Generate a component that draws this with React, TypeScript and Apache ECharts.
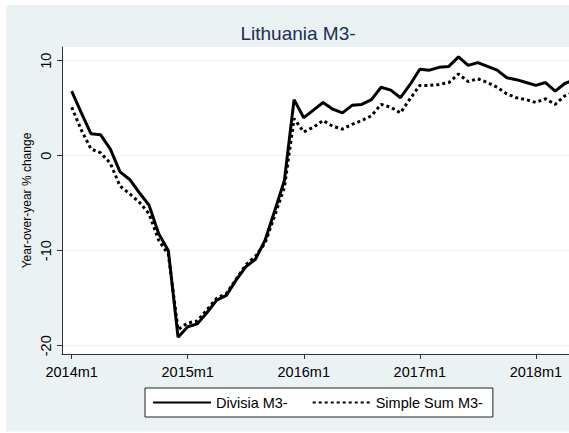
import React, { useEffect, useRef } from "react";
import * as echarts from "echarts";

const startYear = 2014;
const divisia = [
  6.8, 4.5, 2.3, 2.2, 0.7, -1.7, -2.5, -3.9, -5.2, -8.2, -10.0, -19.1,
  -18.0, -17.7, -16.5, -15.2, -14.7, -13.1, -11.7, -10.9, -8.9, -5.8, -2.6, 5.9,
  4.0, 4.8, 5.6, 4.9, 4.5, 5.3, 5.4, 5.9, 7.2, 6.9, 6.1, 7.5,
  9.1, 9.0, 9.3, 9.4, 10.4, 9.5, 9.8, 9.4, 9.0, 8.2, 8.0, 7.7,
  7.4, 7.7, 6.8, 7.6, 8.0,
];
const simpleSum = [
  5.1, 2.7, 0.7, 0.3, -0.8, -3.2, -4.0, -4.9, -6.1, -8.9, -10.4, -18.3,
  -17.6, -17.4, -16.2, -15.0, -14.5, -13.0, -11.5, -10.6, -9.2, -6.3, -3.3, 3.9,
  2.5, 3.0, 3.7, 3.1, 2.8, 3.3, 3.7, 4.2, 5.4, 5.1, 4.5, 6.0,
  7.4, 7.4, 7.5, 7.7, 8.6, 7.8, 8.1, 7.7, 7.2, 6.5, 6.1, 5.9,
  5.6, 6.0, 5.4, 6.3, 6.7,
];
const months = divisia.map(
  (_, i) => `${startYear + Math.floor(i / 12)}m${(i % 12) + 1}`
);
const xTickLabels = ["2014m1", "2015m1", "2016m1", "2017m1", "2018m1"];
const yTicks = [-20, -10, 0, 10];
const seriesNames = ["Divisia M3-", "Simple Sum M3-"];

const FONT = "'Liberation Sans', Arial, sans-serif";

export default function App() {
  const ref = useRef<HTMLDivElement>(null);
  useEffect(() => {
    if (!ref.current) return;
    const chart = echarts.init(ref.current, null, { renderer: "svg" });
    const xTickPos = xTickLabels.map((l) => months.indexOf(l));
    chart.setOption({
      animation: false,
      backgroundColor: "#ffffff",
      textStyle: { fontFamily: FONT },
      graphic: [
        {
          type: "rect",
          z: -10,
          silent: true,
          shape: { x: 6, y: 5, width: 563, height: 426.5 },
          style: { fill: "#EAF2F3" },
        },
        {
          type: "text",
          x: 298,
          y: 33.5,
          style: {
            text: "Lithuania M3-",
            fontSize: 19,
            fontFamily: FONT,
            fill: "#1E2D54",
            textAlign: "center",
            textVerticalAlign: "middle",
          },
        },
      ],
      grid: {
        left: 62,
        top: 47,
        right: 0,
        bottom: 79,
        show: true,
        backgroundColor: "#ffffff",
        borderWidth: 0,
      },
      xAxis: {
        type: "value",
        min: -1,
        max: 51.43,
        axisLine: {
          show: true,
          onZero: false,
          lineStyle: { color: "#333333", width: 1 },
        },
        axisTick: {
          show: true,
          length: 5,
          customValues: xTickPos,
          lineStyle: { color: "#333333" },
        },
        axisLabel: {
          customValues: xTickPos,
          formatter: (v: number) => months[Math.round(v)] ?? "",
          fontSize: 14.5,
          color: "#000",
          margin: 10,
          fontFamily: FONT,
        },
        splitLine: { show: false },
      },
      yAxis: {
        type: "value",
        min: -20.87,
        max: 11.44,
        name: "Year-over-year % change",
        nameLocation: "middle",
        nameGap: 29,
        nameMoveOverlap: false,
        nameTextStyle: { fontSize: 12, color: "#000", fontFamily: FONT },
        axisLine: {
          show: true,
          onZero: false,
          lineStyle: { color: "#333333", width: 1 },
        },
        axisTick: {
          show: true,
          length: 5,
          customValues: yTicks,
          lineStyle: { color: "#333333" },
        },
        axisLabel: {
          customValues: yTicks,
          rotate: 90,
          fontSize: 14.5,
          color: "#000",
          margin: 9,
          fontFamily: FONT,
        },
        splitLine: { show: true, lineStyle: { color: "#EAF2F3", width: 1 } },
      },
      legend: {
        left: 145,
        top: 388,
        backgroundColor: "#ffffff",
        borderColor: "#222222",
        borderWidth: 1,
        borderRadius: 0,
        padding: [7, 10, 7, 7],
        itemWidth: 58,
        itemHeight: 2,
        itemGap: 24,
        itemStyle: { opacity: 0 },
        textStyle: { fontSize: 14.5, color: "#000", fontFamily: FONT },
        data: seriesNames,
      },
      series: [
        {
          name: seriesNames[0],
          type: "line",
          symbol: "none",
          data: divisia.map((v, i) => [i, v]),
          lineStyle: { color: "#000", width: 3, type: "solid" },
          itemStyle: { color: "#000" },
          z: 3,
        },
        {
          name: seriesNames[1],
          type: "line",
          symbol: "none",
          data: simpleSum.map((v, i) => [i, v]),
          lineStyle: { color: "#000", width: 3, type: [3, 3] },
          itemStyle: { color: "#000" },
          z: 2,
        },
      ],
    });
    return () => chart.dispose();
  }, []);
  return (
    <div
      ref={ref}
      style={{ position: "fixed", left: 0, top: 0, width: 569, height: 433 }}
    />
  );
}
